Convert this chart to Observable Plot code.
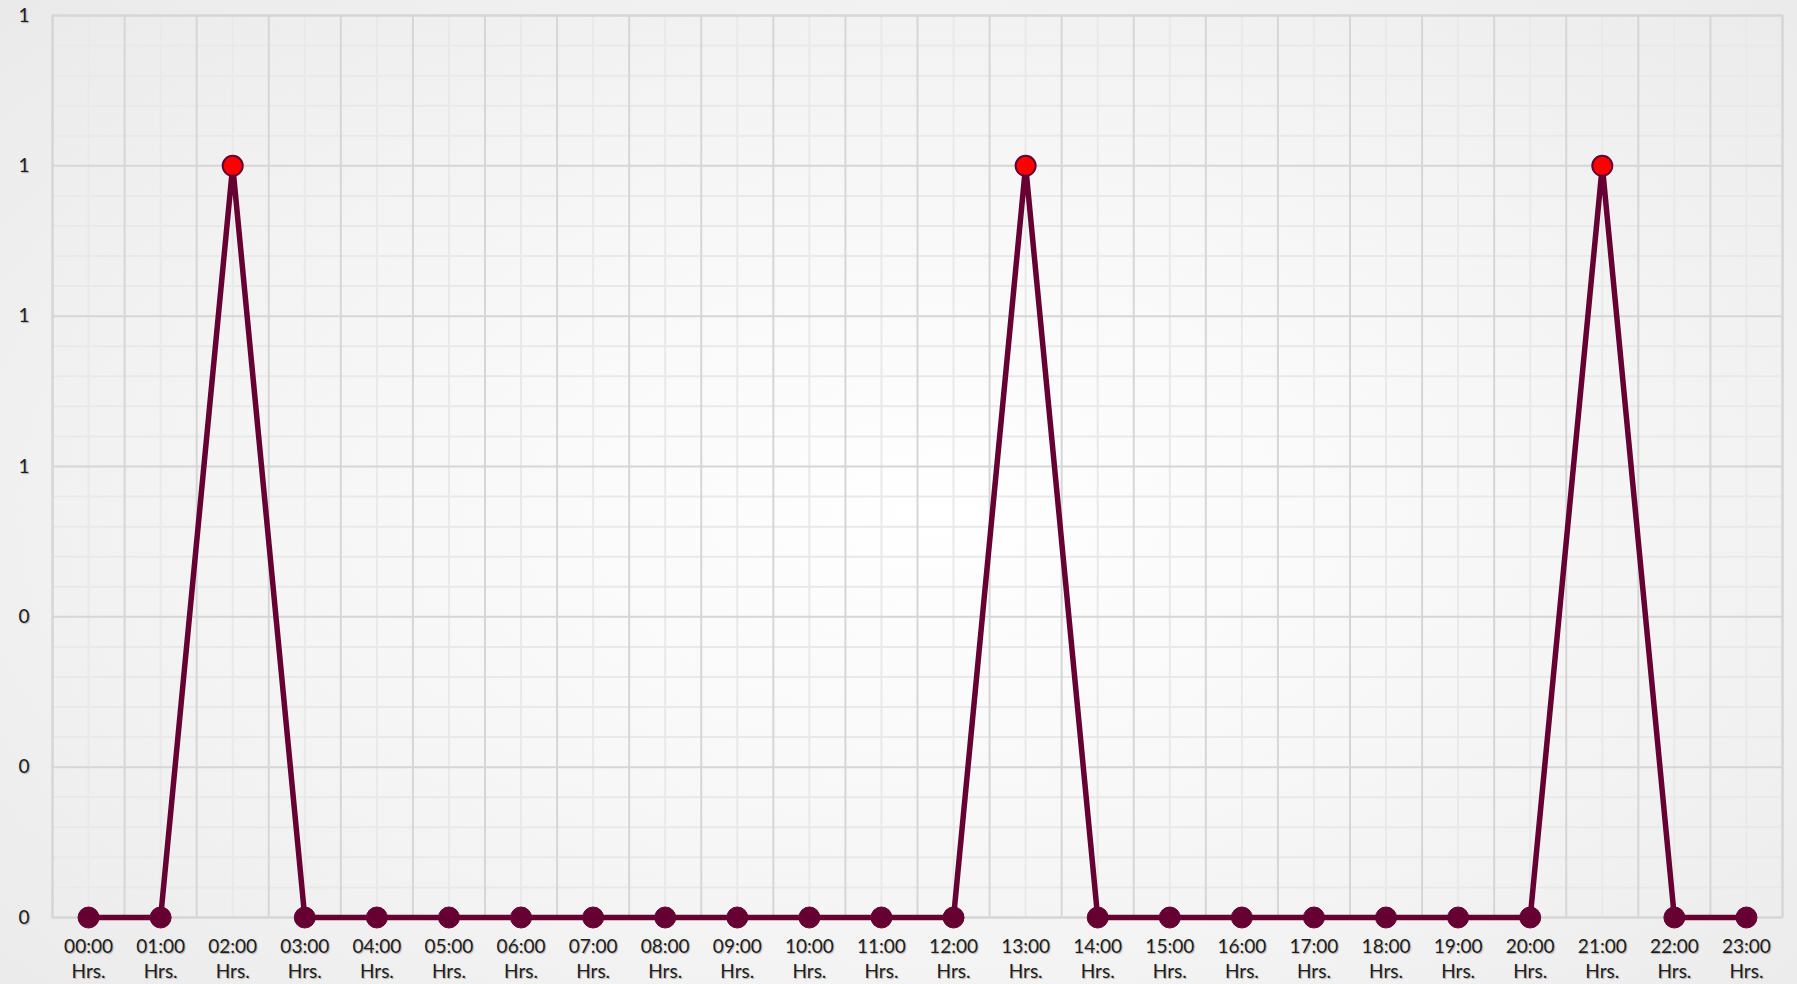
<!DOCTYPE html>
<html>
<head>
<meta charset="utf-8">
<script src="https://cdn.jsdelivr.net/npm/d3@7"></script>
<script src="https://cdn.jsdelivr.net/npm/@observablehq/plot@0.6"></script>
<style>
  html, body { margin: 0; padding: 0; }
  body {
    width: 1797px; height: 984px; overflow: hidden;
    background: radial-gradient(ellipse 70% 75% at 52% 52%, #ffffff 0%, #f7f7f7 45%, #eaeaea 100%);
  }
  #chart svg { display: block; background: transparent; }
  #chart svg text { fill: #1e1e1e; text-shadow: 1px 1px 1px rgba(0,0,0,0.28); }
</style>
</head>
<body>
<div id="chart"></div>
<script>
const hours = ["00:00","01:00","02:00","03:00","04:00","05:00","06:00","07:00","08:00","09:00","10:00","11:00",
               "12:00","13:00","14:00","15:00","16:00","17:00","18:00","19:00","20:00","21:00","22:00","23:00"];
const values = [0,0,1,0,0,0,0,0,0,0,0,0,0,1,0,0,0,0,0,0,0,1,0,0];
const yTicks = [0, 0.2, 0.4, 0.6, 0.8, 1.0, 1.2];
const hoursSuffix = "Hrs.";

const data = hours.map((h, i) => ({i, h, v: values[i]}));
const idx = d3.range(hours.length);
const majorX = d3.range(hours.length + 1).map(k => k - 0.5);
const minorY = d3.range(0, 31).map(k => k * 0.04).filter(v => Math.abs(v / 0.2 - Math.round(v / 0.2)) > 1e-6);

const chart = Plot.plot({
  width: 1797,
  height: 984,
  marginLeft: 52,
  marginRight: 15,
  marginTop: 15,
  marginBottom: 67,
  style: {fontFamily: "Lato, 'Open Sans', sans-serif", fontSize: "19px", background: "transparent"},
  x: {domain: [-0.5, hours.length - 0.5], axis: null},
  y: {domain: [0, 1.2], axis: null},
  marks: [
    Plot.gridX(idx, {stroke: "#e9e9e9", strokeOpacity: 1, strokeWidth: 2}),
    Plot.gridY(minorY, {stroke: "#e9e9e9", strokeOpacity: 1, strokeWidth: 2}),
    Plot.gridX(majorX, {stroke: "#d6d6d6", strokeOpacity: 1, strokeWidth: 2}),
    Plot.gridY(yTicks, {stroke: "#d6d6d6", strokeOpacity: 1, strokeWidth: 2}),
    Plot.frame({stroke: "#d6d6d6", strokeWidth: 2}),
    Plot.axisY(yTicks, {tickSize: 0, tickPadding: 23, tickFormat: d3.format(".0f"), fontSize: 19, label: null}),
    Plot.axisX(idx, {tickSize: 0, tickPadding: 18, tickFormat: i => hours[i] + "\n" + hoursSuffix, lineHeight: 1.3, fontSize: 19, label: null}),
    Plot.line(data, {x: "i", y: "v", stroke: "#660033", strokeWidth: 5.5}),
    Plot.dot(data, {filter: d => d.v !== 1, x: "i", y: "v", r: 10.5, fill: "#660033", stroke: "#660033", strokeWidth: 1}),
    Plot.dot(data, {filter: d => d.v === 1, x: "i", y: "v", r: 10, fill: "#ff0000", stroke: "#660033", strokeWidth: 2})
  ]
});
document.getElementById("chart").appendChild(chart);
</script>
</body>
</html>
